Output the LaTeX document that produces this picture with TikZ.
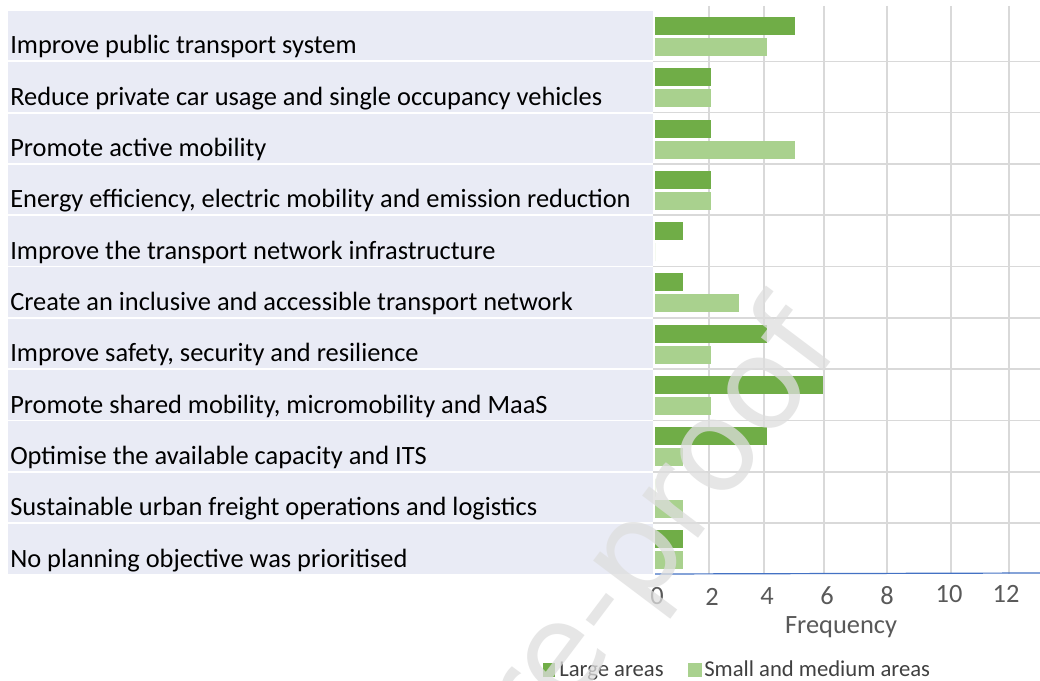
\documentclass[tikz,border=0pt]{standalone}
\usepackage{fontspec}
\setmainfont{Carlito}
\newfontfamily\stampfont{DejaVu Sans}
\usetikzlibrary{positioning}
\definecolor{largegreen}{RGB}{112,173,71}
\definecolor{smallgreen}{RGB}{169,209,142}
\definecolor{rowfill}{RGB}{233,235,245}
\definecolor{gridgray}{RGB}{217,217,217}
\definecolor{axisblue}{RGB}{68,114,196}
\definecolor{tickgray}{RGB}{89,89,89}
\definecolor{legendgray}{RGB}{64,64,64}

\begin{document}
\begin{tikzpicture}[x=0.75pt, y=-0.75pt, font=\fontsize{19.8}{23}\selectfont,
	rowlabel/.style={anchor=base west, inner sep=0pt, text=black},
	ticklabel/.style={anchor=base, inner sep=0pt, text=tickgray},
	legendlabel/.style={anchor=base west, inner sep=0pt, text=legendgray, font=\fontsize{17}{20}\selectfont},
	gridline/.style={draw=gridgray, line width=1.2pt},
	largebar/.style={fill=largegreen},
	smallbar/.style={fill=smallgreen}]
		\useasboundingbox (0,0) rectangle (1040,681);
		\fill[white] (0,0) rectangle (1040,681);

		\foreach \gx in {709,764,824,887,951,1009}
			\draw[gridline] (\gx,6) -- (\gx,574);
		\foreach \i in {1,...,10}
			\draw[gridline] (653,{10.1+51.3*\i}) -- (1040,{10.1+51.3*\i});

		\foreach \big/\sml/\lab [count=\i from 0] in {
				5/4/{Improve public transport system},
				2/2/{Reduce private car usage and single occupancy vehicles},
				2/5/{Promote active mobility},
				2/2/{Energy efficiency, electric mobility and emission reduction},
				1/0/{Improve the transport network infrastructure},
				1/3/{Create an inclusive and accessible transport network},
				4/2/{Improve safety, security and resilience},
				6/2/{Promote shared mobility, micromobility and MaaS},
				4/1/{Optimise the available capacity and ITS},
				0/1/{Sustainable urban freight operations and logistics},
				1/1/{No planning objective was prioritised}} {
			\pgfmathsetmacro{\t}{11+51.3*\i}
			\fill[rowfill] (8,\t) rectangle (653,{\t+49.5});
			\node[rowlabel] (lab\i) at (10,{\t+43}) {\lab};
			\fill[largebar] (655,{\t+6}) rectangle ({655+28*\big},{\t+24});
			\fill[smallbar] (655,{\t+27}) rectangle ({655+28*\sml},{\t+45});
		}

		\draw[axisblue, line width=0.9pt] (655,574) -- (1040,573);

		\foreach \v/\gx/\gy in {0/657/604,2/712/605,4/767/604,6/827/604,8/887/604,10/949/602,12/1006/602}
			\node[ticklabel] (tick\v) at (\gx,\gy) {\v};
		\node[ticklabel] (freq) at (841,633) {Frequency};

		\fill[largegreen] (543,663) rectangle (555,677);
		\node[legendlabel] (leglarge) at (559,676) {Large areas};
		\fill[smallgreen] (688,663) rectangle (702,677);
		\node[legendlabel] (legsmall) at (704,676) {Small and medium areas};

		\begin{scope}
			\clip (0,0) rectangle (1040,681);
			\node[rotate=53, text=black!13, text opacity=0.75, inner sep=0pt, font=\stampfont\fontsize{96}{100}\selectfont] (stamp) at (662,528) {re-proof};
		\end{scope}
	\end{tikzpicture}
\end{document}
